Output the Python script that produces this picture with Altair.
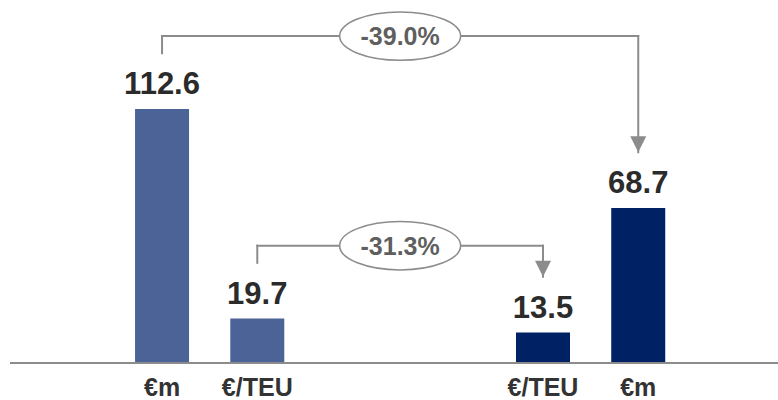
import altair as alt
import pandas as pd

# Bars: unit label, value, position slot on the x axis, and period group
units = ["€m", "€/TEU", "€/TEU", "€m"]
values = [112.6, 19.7, 13.5, 68.7]
slot = [0, 1, 4, 5]
period = ["before", "before", "after", "after"]

# Change brackets: index of the starting bar, index of the ending bar, label
change_from = [0, 1]
change_to = [3, 2]
change_text = ["-39.0%", "-31.3%"]

LIGHT = "#4b6396"
NAVY = "#002163"
GREY = "#8c8c8c"
FONT = "Liberation Sans"

bars = pd.DataFrame({"slot": slot, "value": values, "unit": units, "period": period})
bars["zero"] = 0.0

# bracket geometry (in value units): ends sit just above each value label
LABEL_GAP = 24.7
RISE = 7.6
rows = []
for f, t, txt in zip(change_from, change_to, change_text):
    start = values[f] + LABEL_GAP
    tip = values[t] + LABEL_GAP
    rows.append({
        "x0": slot[f], "x1": slot[t], "mid": (slot[f] + slot[t]) / 2,
        "start": start, "tip": tip, "level": start + RISE, "label": txt,
    })
brk = pd.DataFrame(rows)

xs = alt.Scale(domain=[-1.544, 6.415], nice=False, zero=False)
ys = alt.Scale(domain=[0, 160.9], nice=False)


def X(f):
    return alt.X(f, scale=xs, axis=None)


def Y(f):
    return alt.Y(f, scale=ys, axis=None)


base = alt.Chart(bars)

bar_layer = base.mark_bar(size=54).encode(
    x=X("slot:Q"),
    y=Y("value:Q"),
    color=alt.Color("period:N", scale=alt.Scale(domain=["before", "after"], range=[LIGHT, NAVY]), legend=None),
)

baseline = base.mark_rule(color=GREY, strokeWidth=2).encode(y=Y("zero:Q"))

value_labels = base.mark_text(
    dy=-15, baseline="alphabetic", fontSize=31, fontWeight="bold", font=FONT, color="#2b2b2b"
).encode(x=X("slot:Q"), y=Y("value:Q"), text=alt.Text("value:Q", format=".1f"))

unit_labels = base.mark_text(
    dy=33, baseline="alphabetic", fontSize=25, fontWeight="bold", font=FONT, color="#333333"
).encode(x=X("slot:Q"), y=Y("zero:Q"), text="unit:N")

bb = alt.Chart(brk)
rule_kw = dict(color=GREY, strokeWidth=2, strokeCap="square")
left_leg = bb.mark_rule(**rule_kw).encode(x=X("x0:Q"), y=Y("start:Q"), y2="level:Q")
top_leg = bb.mark_rule(**rule_kw).encode(x=X("x0:Q"), x2="x1:Q", y=Y("level:Q"))
right_leg = bb.mark_rule(**rule_kw).encode(x=X("x1:Q"), y=Y("level:Q"), y2="tip:Q")

arrow = bb.mark_point(
    shape="M-1,-1L1,-1L0,1Z", size=256, filled=True, color=GREY, opacity=1, yOffset=-8
).encode(x=X("x1:Q"), y=Y("tip:Q"))

ELLIPSE = (
    "M-1,0 C-1,-0.2209 -0.5523,-0.4 0,-0.4 C0.5523,-0.4 1,-0.2209 1,0 "
    "C1,0.2209 0.5523,0.4 0,0.4 C-0.5523,0.4 -1,0.2209 -1,0 Z"
)
ellipse = bb.mark_point(
    shape=ELLIPSE, size=121 * 121, filled=True, fill="white", stroke=GREY,
    strokeWidth=1.5, opacity=1
).encode(x=X("mid:Q"), y=Y("level:Q"))

change_labels = bb.mark_text(
    dy=9, baseline="alphabetic", fontSize=25, fontWeight="bold", font=FONT, color="#5f5f5f"
).encode(x=X("mid:Q"), y=Y("level:Q"), text="label:N")

chart = alt.layer(
    bar_layer, baseline, value_labels, unit_labels,
    left_leg, top_leg, right_leg, arrow, ellipse, change_labels,
).properties(
    width=768, height=363,
    padding={"left": 10, "top": 0, "right": 0, "bottom": 37},
    autosize=alt.AutoSizeParams(type="none"),
).configure_view(stroke=None)

chart.save("out.html", embed_options={"renderer": "svg", "actions": False})
